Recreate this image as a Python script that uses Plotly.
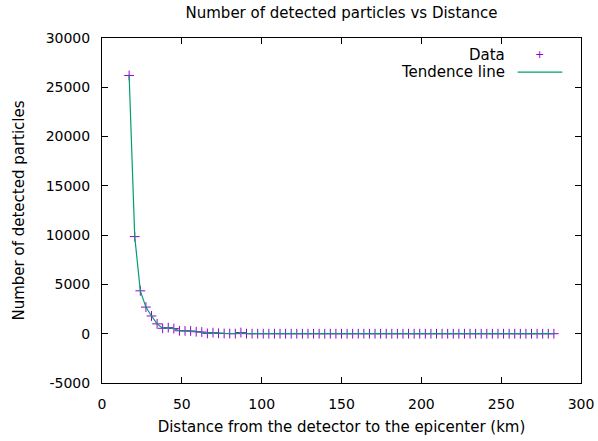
import plotly.graph_objects as go

# Data
distance_km = [17, 20.5, 24, 27.5, 31, 34.5, 38, 41.5, 45, 48.5, 52, 55.5, 59, 62.5, 66, 69.5,
               73, 76.5, 80, 83.5, 87, 90.5, 94, 97.5, 101, 104.5, 108, 111.5, 115, 118.5,
               122, 125.5, 129, 132.5, 136, 139.5, 143, 146.5, 150, 153.5, 157, 160.5, 164,
               167.5, 171, 174.5, 178, 181.5, 185, 188.5, 192, 195.5, 199, 202.5, 206, 209.5,
               213, 216.5, 220, 223.5, 227, 230.5, 234, 237.5, 241, 244.5, 248, 251.5, 255,
               258.5, 262, 265.5, 269, 272.5, 276, 279.5, 283]
particles = [26200, 9850, 4350, 2700, 1800, 1000, 550, 620, 520, 300, 290, 280, 200, 170, 30, 110,
             40, 25, 15, 10, 120, 8, 6, 5, 5, 4, 4, 3, 3, 3, 2, 2, 2, 2, 2, 1, 1, 1, 1, 1, 1, 1,
             1, 1, 1, 1, 1, 1, 0, 0, 0, 0, 0, 0, 0, 0, 0, 0, 0, 0, 0, 0, 0, 0, 0, 0, 0, 0, 0, 0,
             0, 0, 0, 0, 0, 0, 0]

x_ticks = [0, 50, 100, 150, 200, 250, 300]
x_tick_labels = ["0", "50", "100", "150", "200", "250", "300"]
y_ticks = [-5000, 0, 5000, 10000, 15000, 20000, 25000, 30000]
y_tick_labels = ["-5000", "0", "5000", "10000", "15000", "20000", "25000", "30000"]

series_names = ["Data", "Tendence line"]
title_text = "Number of detected particles vs Distance"
x_title = "Distance from the detector to the epicenter (km)"
y_title = "Number of detected particles"

PURPLE = "#9400d3"
GREEN = "#009e73"
FONT = "DejaVu Sans, sans-serif"

fig = go.Figure()
fig.add_trace(go.Scatter(
    x=distance_km, y=particles, mode="markers", name=series_names[0],
    marker=dict(symbol="cross-thin", size=7, line=dict(color=PURPLE, width=1), color=PURPLE),
    showlegend=False))
fig.add_trace(go.Scatter(
    x=distance_km, y=particles, mode="lines", name=series_names[1],
    line=dict(color=GREEN, width=1.2), showlegend=False))

axis_common = dict(showgrid=False, zeroline=False, showline=True, linecolor="black",
                   linewidth=1, mirror="ticks", ticks="inside", ticklen=6, tickwidth=1,
                   automargin=False,
                   tickcolor="black", tickfont=dict(family=FONT, size=14, color="black"))

fig.update_xaxes(range=[0, 300], tickvals=x_ticks, ticktext=x_tick_labels,
                 ticklabelstandoff=8,
                 title=dict(text=x_title, font=dict(family=FONT, size=15, color="black"), standoff=10),
                 **axis_common)
fig.update_yaxes(range=[-5000, 30000], tickvals=y_ticks, ticktext=y_tick_labels,
                 ticklabelstandoff=8,
                 title=dict(text=y_title, font=dict(family=FONT, size=15, color="black"), standoff=17),
                 **axis_common)

# Gnuplot-style key: text right-aligned, sample to the right
fig.add_annotation(xref="paper", yref="paper", x=0.845, y=0.9515, text=series_names[0],
                   showarrow=False, xanchor="right", yanchor="middle",
                   font=dict(family=FONT, size=15, color="black"))
fig.add_annotation(xref="paper", yref="paper", x=0.9129, y=0.9515, text="+",
                   showarrow=False, xanchor="center", yanchor="middle",
                   font=dict(family=FONT, size=11, color=PURPLE))
fig.add_annotation(xref="paper", yref="paper", x=0.845, y=0.9012, text=series_names[1],
                   showarrow=False, xanchor="right", yanchor="middle",
                   font=dict(family=FONT, size=15, color="black"))
fig.add_shape(type="line", xref="paper", yref="paper", x0=0.8677, x1=0.961, y0=0.9012, y1=0.9012,
              line=dict(color=GREEN, width=1.2))

fig.update_layout(
    width=598, height=441,
    margin=dict(l=102, r=17, t=38, b=58),
    paper_bgcolor="white", plot_bgcolor="white",
    title=dict(text=title_text, xref="paper", x=0.5, xanchor="center", y=1 - 13 / 441,
               yanchor="middle", yref="container",
               font=dict(family=FONT, size=15, color="black")),
    font=dict(family=FONT, size=15, color="black"),
)

fig.write_html("out.html", config={"displayModeBar": False},
               post_script="document.body.style.margin='0px';document.body.style.overflow='hidden';")
